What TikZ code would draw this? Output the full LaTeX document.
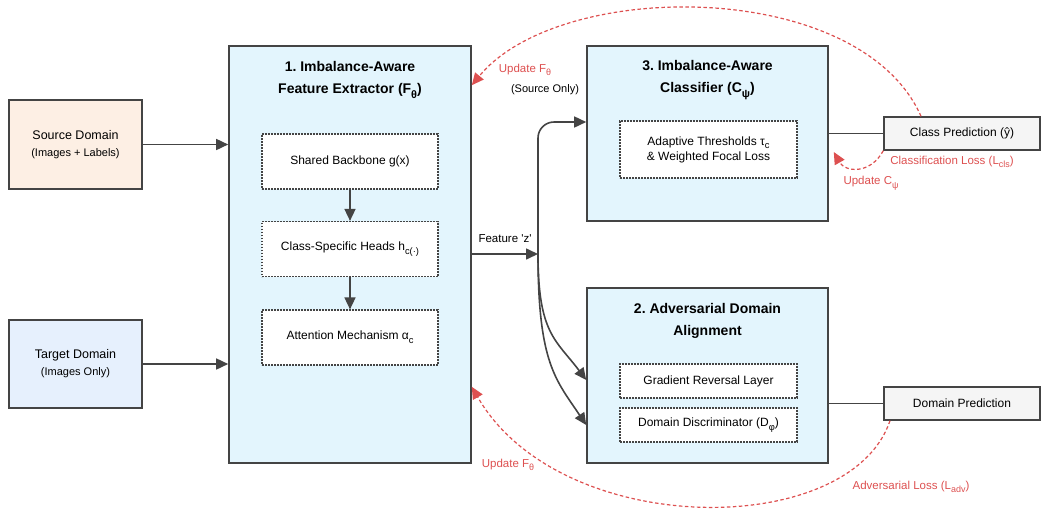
\documentclass[tikz,border=0pt]{standalone}
\usepackage{fontspec}
\setmainfont{Liberation Sans}
\usetikzlibrary{arrows.meta,positioning}
\frenchspacing

\definecolor{edgegray}{RGB}{68,68,68}
\definecolor{paneblue}{RGB}{227,245,253}
\definecolor{srcpeach}{RGB}{253,239,228}
\definecolor{tgtblue}{RGB}{230,240,253}
\definecolor{predgray}{RGB}{245,245,245}
\definecolor{lossred}{RGB}{221,80,80}

% subscript at about four fifths of the running size, set low
\makeatletter
\newcommand{\dsub}[1]{\@tempdima=\f@size pt\@tempdima=0.78\@tempdima
	\raisebox{-0.6ex}{\fontsize{\strip@pt\@tempdima}{\strip@pt\@tempdima}\selectfont #1}}
\makeatother

\begin{document}
\begin{tikzpicture}[x=1pt,y=-1pt,
		box/.style={draw=edgegray,line width=1.6pt,inner sep=0pt},
		inner/.style={draw=edgegray,line width=1.2pt,dash pattern=on 1.6pt off 1.4pt,fill=white,inner sep=0pt,align=center,font=\fontsize{12}{15}\selectfont},
		pred/.style={draw=edgegray,line width=1.4pt,fill=predgray,inner sep=0pt,minimum width=156pt,minimum height=33pt,font=\fontsize{12}{15}\selectfont},
		title/.style={align=center,font=\bfseries\fontsize{14}{22}\selectfont},
		arr/.style={draw=edgegray,line width=1.6pt,-{Triangle[length=12pt,width=11pt]}},
		loss/.style={draw=lossred,line width=1.2pt,dash pattern=on 3.5pt off 2.5pt,-{Triangle[length=12pt,width=11pt]}},
		losstext/.style={text=lossred,font=\fontsize{11.5}{14}\selectfont}]
		\useasboundingbox (0,0) rectangle (1041,509);
		
		% inputs
		\node[box,fill=srcpeach,minimum width=133pt,minimum height=89pt,align=center] (src) at (75.5,144.5) {\fontsize{12.5}{15}\selectfont Source Domain\\[5pt]\fontsize{11}{13}\selectfont (Images + Labels)};
		\node[box,fill=tgtblue,minimum width=133pt,minimum height=88pt,align=center] (tgt) at (75.5,364) {\fontsize{12.5}{15}\selectfont Target Domain\\[5pt]\fontsize{11}{13}\selectfont (Images Only)};
		
		% feature extractor
		\node[box,fill=paneblue,minimum width=242pt,minimum height=417pt] (fe) at (350,254.5) {};
		\node[title] (fetitle) at (350,80) {1. Imbalance-Aware\\Feature Extractor (F\dsub{θ})};
		\node[inner,minimum width=176pt,minimum height=55pt] (backbone) at (350,161.5) {Shared Backbone g(x)};
		\node[inner,minimum width=176pt,minimum height=55pt] (heads) at (350,249) {Class-Specific Heads h\dsub{c(·)}};
		\node[inner,minimum width=176pt,minimum height=55pt] (attn) at (350,337.5) {Attention Mechanism α\dsub{c}};
		
		\draw[arr] (src.east) -- (src.east -| fe.west);
		\draw[arr] (tgt.east) -- (tgt.east -| fe.west);
		\draw[arr] (backbone) -- (heads);
		\draw[arr] (heads) -- (attn);
		
		% classifier
		\node[box,fill=paneblue,minimum width=241pt,minimum height=175pt] (cls) at (707.5,133.5) {};
		\node[title] (clstitle) at (707.5,80) {3. Imbalance-Aware\\Classifier (C\dsub{ψ})};
		\node[inner,minimum width=177pt,minimum height=57pt] (thresh) at (708.5,149.5) {Adaptive Thresholds τ\dsub{c}\\\& Weighted Focal Loss};
		
		% domain alignment
		\node[box,fill=paneblue,minimum width=241pt,minimum height=175pt] (adv) at (707.5,375.5) {};
		\node[title] (advtitle) at (707.5,321) {2. Adversarial Domain\\Alignment};
		\node[inner,minimum width=177pt,minimum height=34pt] (grl) at (708.5,381) {Gradient Reversal Layer};
		\node[inner,minimum width=177pt,minimum height=34pt] (disc) at (708.5,425) {Domain Discriminator (D\dsub{φ})};
		
		% outputs
		\node[pred] (clspred) at (962,133.5) {Class Prediction (ŷ)};
		\node[pred] (dompred) at (962,403.5) {Domain Prediction};
		\draw[edgegray,line width=1.4pt] (cls.east) -- (clspred.west);
		\draw[edgegray,line width=1.4pt] (adv.east |- dompred.west) -- (dompred.west);
		
		% feature routing
		\coordinate (split) at (538,254);
		\draw[arr] (fe.east |- split) -- (split);
		\node[font=\fontsize{11.5}{14}\selectfont] (feat) at (505,239) {Feature \textquotesingle z\textquotesingle};
		\draw[arr,rounded corners=16pt] (split) |- ([yshift=11.5pt]cls.west);
		\draw[arr] (split) .. controls +(0,80) and +(-30,-40) .. ([yshift=-4.5pt]adv.west);
		\draw[arr] (split) .. controls +(0,110) and +(-30,-45) .. ([yshift=-49.5pt]adv.west);
		
		% gradient feedback
		\draw[loss] ([xshift=-41pt]clspred.north) .. controls (860,-22) and (560,-22) .. ([yshift=-40pt]fe.north east);
		\node[losstext] (updtop) at (525,70) {Update F\dsub{θ}};
		\node[font=\fontsize{11}{14}\selectfont] (srconly) at (545,90) {(Source Only)};
		
		\draw[loss] (clspred.south west) .. controls (870,175) and (845,172) .. ([xshift=5pt,yshift=-18.5pt]cls.east);
		\node[losstext] (clsloss) at (952,162) {Classification Loss (L\dsub{cls})};
		\node[losstext] (updcls) at (871,183) {Update C\dsub{ψ}};
		
		\draw[loss] ([xshift=-72pt]dompred.south) .. controls (850,540) and (560,540) .. ([yshift=77pt]fe.south east);
		\node[losstext] (updbot) at (508,465) {Update F\dsub{θ}};
		\node[losstext] (advloss) at (911,487) {Adversarial Loss (L\dsub{adv})};
	\end{tikzpicture}
\end{document}
